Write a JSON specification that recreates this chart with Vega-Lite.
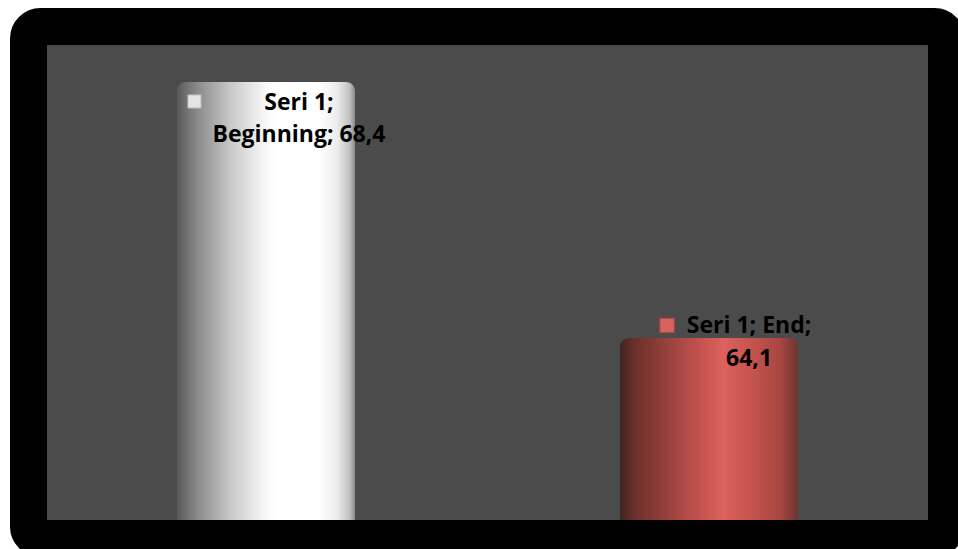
{
  "$schema": "https://vega.github.io/schema/vega-lite/v6.json",
  "width": 918,
  "height": 512,
  "autosize": {"type": "none"},
  "padding": {"left": 28.5, "top": 26.5, "right": 11.5, "bottom": 10.5},
  "background": "white",
  "config": {
    "view": {"fill": "#4b4b4b", "stroke": "black", "strokeWidth": 37, "cornerRadius": 12},
    "text": {"font": "Open Sans"}
  },
  "data": {
    "values": [
      {"series": "Seri 1", "category": "Beginning", "value": 68.4, "label": "Seri 1;\nBeginning; 68,4"},
      {"series": "Seri 1", "category": "End", "value": 64.1, "label": "Seri 1; End;\n64,1"}
    ]
  },
  "encoding": {
    "x": {"field": "category", "type": "nominal", "axis": null, "sort": ["Beginning", "End"],
      "scale": {"paddingInner": 0.598, "paddingOuter": 0.335}},
    "y": {"field": "value", "type": "quantitative", "axis": null,
      "scale": {"domain": [60.732, 69.332], "zero": false, "nice": false}}
  },
  "layer": [
    {
      "transform": [{"filter": "datum.category === 'Beginning'"}],
      "mark": {"type": "bar", "cornerRadiusTopLeft": 9, "cornerRadiusTopRight": 9,
        "fill": {"gradient": "linear", "x1": 0, "y1": 0, "x2": 1, "y2": 0, "stops": [
          {"offset": 0, "color": "#5a5a5a"},
          {"offset": 0.12, "color": "#8c8c8c"},
          {"offset": 0.3, "color": "#c8c8c8"},
          {"offset": 0.48, "color": "#f4f4f4"},
          {"offset": 0.55, "color": "#ffffff"},
          {"offset": 0.8, "color": "#ffffff"},
          {"offset": 0.9, "color": "#ececec"},
          {"offset": 0.97, "color": "#c0c0c0"},
          {"offset": 1, "color": "#8a8a8a"}
        ]}},
      "encoding": {"y2": {"datum": 61.043}}
    },
    {
      "transform": [{"filter": "datum.category === 'End'"}],
      "mark": {"type": "bar", "cornerRadiusTopLeft": 9, "cornerRadiusTopRight": 9,
        "fill": {"gradient": "linear", "x1": 0, "y1": 0, "x2": 1, "y2": 0, "stops": [
          {"offset": 0, "color": "#3e2420"},
          {"offset": 0.08, "color": "#6a302b"},
          {"offset": 0.25, "color": "#93403c"},
          {"offset": 0.45, "color": "#c5524e"},
          {"offset": 0.58, "color": "#dc625e"},
          {"offset": 0.72, "color": "#c9554f"},
          {"offset": 0.9, "color": "#a84642"},
          {"offset": 1, "color": "#6e3530"}
        ]}},
      "encoding": {"y2": {"datum": 61.043}}
    },
    {
      "transform": [{"filter": "datum.category === 'Beginning'"}],
      "mark": {"type": "point", "shape": "square", "filled": true, "size": 170, "opacity": 1,
        "color": "#e4e4e4", "stroke": "#bdbdbd", "strokeWidth": 1, "xOffset": -71.5, "yOffset": 19.5}
    },
    {
      "transform": [{"filter": "datum.category === 'End'"}],
      "mark": {"type": "point", "shape": "square", "filled": true, "size": 210, "opacity": 1,
        "color": "#d7625e", "stroke": "#a94542", "strokeWidth": 1, "xOffset": -42, "yOffset": -12.5}
    },
    {
      "transform": [{"filter": "datum.category === 'Beginning'"}],
      "mark": {"type": "text", "fontSize": 23, "fontWeight": "bold", "color": "black",
        "align": "center", "baseline": "alphabetic", "lineBreak": "\n", "lineHeight": 32,
        "dx": 33, "dy": 28.5},
      "encoding": {"text": {"field": "label"}}
    },
    {
      "transform": [{"filter": "datum.category === 'End'"}],
      "mark": {"type": "text", "fontSize": 23, "fontWeight": "bold", "color": "black",
        "align": "center", "baseline": "alphabetic", "lineBreak": "\n", "lineHeight": 33.5,
        "dx": 40, "dy": -5},
      "encoding": {"text": {"field": "label"}}
    }
  ]
}
